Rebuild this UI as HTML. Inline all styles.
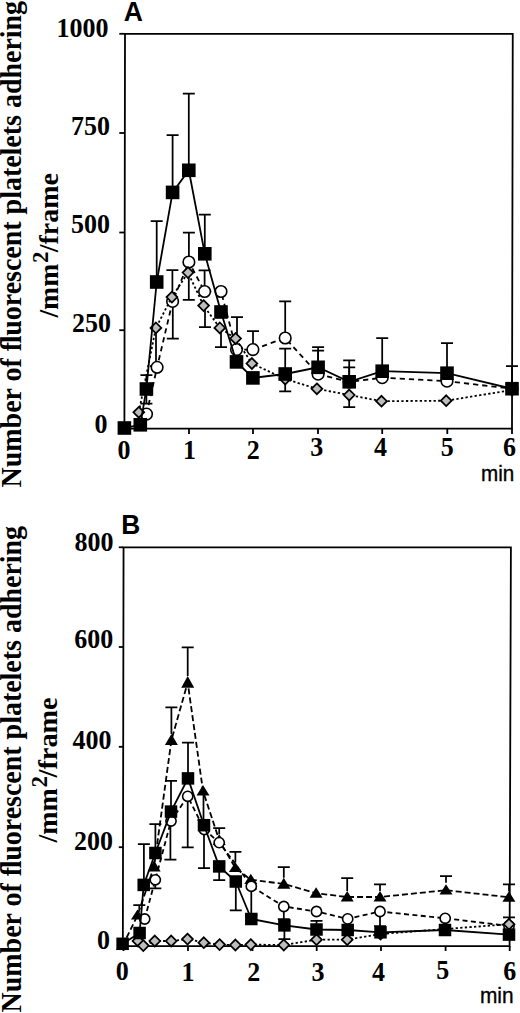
<!DOCTYPE html>
<html><head><meta charset="utf-8"><style>
html,body{margin:0;padding:0;background:#fff;width:520px;height:1013px;overflow:hidden}
svg{display:block}
</style></head><body>
<svg width="520" height="1013" viewBox="0 0 520 1013" stroke="#000" fill="#000">
<g stroke="#000">
<path d="M124.4 428.6L125 33.8L512.75 33.8L512 428.6Z" fill="none" stroke-width="1.8"/>
<line x1="119.3" y1="33.8" x2="124.6" y2="33.8" stroke-width="1.8"/>
<line x1="119.3" y1="133" x2="124.6" y2="133" stroke-width="1.8"/>
<line x1="119.3" y1="232.5" x2="124.6" y2="232.5" stroke-width="1.8"/>
<line x1="119.3" y1="330.2" x2="124.6" y2="330.2" stroke-width="1.8"/>
<line x1="119.3" y1="428.6" x2="124.6" y2="428.6" stroke-width="1.8"/>
<line x1="124.5" y1="428.6" x2="124.5" y2="434" stroke-width="1.8"/>
<line x1="189" y1="428.6" x2="189" y2="434" stroke-width="1.8"/>
<line x1="253" y1="428.6" x2="253" y2="434" stroke-width="1.8"/>
<line x1="318" y1="428.6" x2="318" y2="434" stroke-width="1.8"/>
<line x1="382.2" y1="428.6" x2="382.2" y2="434" stroke-width="1.8"/>
<line x1="447.3" y1="428.6" x2="447.3" y2="434" stroke-width="1.8"/>
<line x1="512" y1="428.6" x2="512" y2="434" stroke-width="1.8"/>
<path d="M146.4 389V375.2M140.4 375.2h12" stroke-width="1.75" fill="none"/>
<path d="M146.4 389V403.5M140.4 403.5h12" stroke-width="1.75" fill="none"/>
<path d="M156.7 282V221M150.7 221h12" stroke-width="1.75" fill="none"/>
<path d="M172.6 192.4V135.2M166.6 135.2h12" stroke-width="1.75" fill="none"/>
<path d="M188.8 170.3V93.5M182.8 93.5h12" stroke-width="1.75" fill="none"/>
<path d="M204.8 253.8V214.5M198.8 214.5h12" stroke-width="1.75" fill="none"/>
<path d="M237 361.9V317M231.0 317h12" stroke-width="1.75" fill="none"/>
<path d="M285.2 374V348.7M279.2 348.7h12" stroke-width="1.75" fill="none"/>
<path d="M285.2 374V391.4M279.2 391.4h12" stroke-width="1.75" fill="none"/>
<path d="M318.1 367.3V347.2M312.1 347.2h12" stroke-width="1.75" fill="none"/>
<path d="M318.1 367.3V350.5M312.1 350.5h12" stroke-width="1.75" fill="none"/>
<path d="M349.2 381.8V360.4M343.2 360.4h12" stroke-width="1.75" fill="none"/>
<path d="M349.2 381.8V367.3M343.2 367.3h12" stroke-width="1.75" fill="none"/>
<path d="M349.2 395V407.2M343.2 407.2h12" stroke-width="1.75" fill="none"/>
<path d="M382.2 371.2V338M376.2 338h12" stroke-width="1.75" fill="none"/>
<path d="M447 373.2V343M441.0 343h12" stroke-width="1.75" fill="none"/>
<path d="M512 388.7V366.2M506.0 366.2h12" stroke-width="1.75" fill="none"/>
<path d="M172.8 301.4V338.5M166.8 338.5h12" stroke-width="1.75" fill="none"/>
<path d="M188.9 262V232.7M182.9 232.7h12" stroke-width="1.75" fill="none"/>
<path d="M204.6 291.5V270.4M198.6 270.4h12" stroke-width="1.75" fill="none"/>
<path d="M253 349.6V331.2M247.0 331.2h12" stroke-width="1.75" fill="none"/>
<path d="M285.2 338V301.3M279.2 301.3h12" stroke-width="1.75" fill="none"/>
<path d="M172.4 297.1V270M166.4 270h12" stroke-width="1.75" fill="none"/>
<path d="M188.8 272.6V299.8M182.8 299.8h12" stroke-width="1.75" fill="none"/>
<path d="M205 305.6V327M199.0 327h12" stroke-width="1.75" fill="none"/>
<path d="M221 327.9V347.1M215.0 347.1h12" stroke-width="1.75" fill="none"/>
<path d="M156 328V366M150.0 366h12" stroke-width="1.75" fill="none"/>
<polyline points="146.5,414.1 157.1,367.3 172.6,301.4 188.9,262 204.6,291.5 221,291.5 236.5,349.6 252.9,349.6 285.2,338 318.1,374.2 349.2,382 382.2,377.7 447,381.2 512,388.7" fill="none" stroke-width="1.8" stroke-dasharray="5.2 4"/>
<circle cx="146.5" cy="414.1" r="5.8" fill="#fff" stroke-width="1.6"/>
<circle cx="157.1" cy="367.3" r="5.8" fill="#fff" stroke-width="1.6"/>
<circle cx="172.6" cy="301.4" r="5.8" fill="#fff" stroke-width="1.6"/>
<circle cx="188.9" cy="262" r="5.8" fill="#fff" stroke-width="1.6"/>
<circle cx="204.6" cy="291.5" r="5.8" fill="#fff" stroke-width="1.6"/>
<circle cx="221" cy="291.5" r="5.8" fill="#fff" stroke-width="1.6"/>
<circle cx="236.5" cy="349.6" r="5.8" fill="#fff" stroke-width="1.6"/>
<circle cx="252.9" cy="349.6" r="5.8" fill="#fff" stroke-width="1.6"/>
<circle cx="285.2" cy="338" r="5.8" fill="#fff" stroke-width="1.6"/>
<circle cx="318.1" cy="374.2" r="5.8" fill="#fff" stroke-width="1.6"/>
<circle cx="349.2" cy="382" r="5.8" fill="#fff" stroke-width="1.6"/>
<circle cx="382.2" cy="377.7" r="5.8" fill="#fff" stroke-width="1.6"/>
<circle cx="447" cy="381.2" r="5.8" fill="#fff" stroke-width="1.6"/>
<circle cx="512" cy="388.7" r="5.8" fill="#fff" stroke-width="1.6"/>
<polyline points="138.8,412.3 155.9,327.9 171.9,297.1 188,272.6 203.6,305.6 219.8,327.9 235.6,338.5 251.9,363.5 285.2,379 316.9,388.8 349.2,395 381.5,401.2 446.2,400.7 512,390" fill="none" stroke-width="1.8" stroke-dasharray="2.3 2.3"/>
<path d="M138.8 406.90000000000003L144.20000000000002 412.3L138.8 417.7L133.4 412.3Z" fill="#bdbdbd" stroke-width="1.75" stroke-linejoin="miter"/>
<path d="M155.9 322.5L161.3 327.9L155.9 333.29999999999995L150.5 327.9Z" fill="#bdbdbd" stroke-width="1.75" stroke-linejoin="miter"/>
<path d="M171.9 291.70000000000005L177.3 297.1L171.9 302.5L166.5 297.1Z" fill="#bdbdbd" stroke-width="1.75" stroke-linejoin="miter"/>
<path d="M188 267.20000000000005L193.4 272.6L188 278.0L182.6 272.6Z" fill="#bdbdbd" stroke-width="1.75" stroke-linejoin="miter"/>
<path d="M203.6 300.20000000000005L209.0 305.6L203.6 311.0L198.2 305.6Z" fill="#bdbdbd" stroke-width="1.75" stroke-linejoin="miter"/>
<path d="M219.8 322.5L225.20000000000002 327.9L219.8 333.29999999999995L214.4 327.9Z" fill="#bdbdbd" stroke-width="1.75" stroke-linejoin="miter"/>
<path d="M235.6 333.1L241.0 338.5L235.6 343.9L230.2 338.5Z" fill="#bdbdbd" stroke-width="1.75" stroke-linejoin="miter"/>
<path d="M251.9 358.1L257.3 363.5L251.9 368.9L246.5 363.5Z" fill="#bdbdbd" stroke-width="1.75" stroke-linejoin="miter"/>
<path d="M285.2 373.6L290.59999999999997 379L285.2 384.4L279.8 379Z" fill="#bdbdbd" stroke-width="1.75" stroke-linejoin="miter"/>
<path d="M316.9 383.40000000000003L322.29999999999995 388.8L316.9 394.2L311.5 388.8Z" fill="#bdbdbd" stroke-width="1.75" stroke-linejoin="miter"/>
<path d="M349.2 389.6L354.59999999999997 395L349.2 400.4L343.8 395Z" fill="#bdbdbd" stroke-width="1.75" stroke-linejoin="miter"/>
<path d="M381.5 395.8L386.9 401.2L381.5 406.59999999999997L376.1 401.2Z" fill="#bdbdbd" stroke-width="1.75" stroke-linejoin="miter"/>
<path d="M446.2 395.3L451.59999999999997 400.7L446.2 406.09999999999997L440.8 400.7Z" fill="#bdbdbd" stroke-width="1.75" stroke-linejoin="miter"/>
<path d="M512 384.6L517.4 390L512 395.4L506.6 390Z" fill="#bdbdbd" stroke-width="1.75" stroke-linejoin="miter"/>
<polyline points="124.4,428 140.3,424.8 146.4,389 156.7,282 172.6,192.4 188.8,170.3 204.8,253.8 221,312 236.5,361.9 252.9,377.9 285.2,374 318.1,367.3 349.2,381.8 382.2,371.2 447,373.2 512,388.7" fill="none" stroke-width="1.8"/>
<rect x="117.60" y="421.20" width="13.6" height="13.6" fill="#000" stroke="none"/>
<rect x="133.50" y="418.00" width="13.6" height="13.6" fill="#000" stroke="none"/>
<rect x="139.60" y="382.20" width="13.6" height="13.6" fill="#000" stroke="none"/>
<rect x="149.90" y="275.20" width="13.6" height="13.6" fill="#000" stroke="none"/>
<rect x="165.80" y="185.60" width="13.6" height="13.6" fill="#000" stroke="none"/>
<rect x="182.00" y="163.50" width="13.6" height="13.6" fill="#000" stroke="none"/>
<rect x="198.00" y="247.00" width="13.6" height="13.6" fill="#000" stroke="none"/>
<rect x="214.20" y="305.20" width="13.6" height="13.6" fill="#000" stroke="none"/>
<rect x="229.70" y="355.10" width="13.6" height="13.6" fill="#000" stroke="none"/>
<rect x="246.10" y="371.10" width="13.6" height="13.6" fill="#000" stroke="none"/>
<rect x="278.40" y="367.20" width="13.6" height="13.6" fill="#000" stroke="none"/>
<rect x="311.30" y="360.50" width="13.6" height="13.6" fill="#000" stroke="none"/>
<rect x="342.40" y="375.00" width="13.6" height="13.6" fill="#000" stroke="none"/>
<rect x="375.40" y="364.40" width="13.6" height="13.6" fill="#000" stroke="none"/>
<rect x="440.20" y="366.40" width="13.6" height="13.6" fill="#000" stroke="none"/>
<rect x="505.20" y="381.90" width="13.6" height="13.6" fill="#000" stroke="none"/>
<path d="M122.85 946.2L123.55 547.3L510.9 547.3L509.6 946.2Z" fill="none" stroke-width="1.8"/>
<line x1="118.8" y1="547.3" x2="123.3" y2="547.3" stroke-width="1.8"/>
<line x1="118.8" y1="647" x2="123.3" y2="647" stroke-width="1.8"/>
<line x1="118.8" y1="746.8" x2="123.3" y2="746.8" stroke-width="1.8"/>
<line x1="118.8" y1="847.2" x2="123.3" y2="847.2" stroke-width="1.8"/>
<line x1="118.8" y1="946.2" x2="123.3" y2="946.2" stroke-width="1.8"/>
<line x1="123.5" y1="946.2" x2="123.5" y2="951" stroke-width="1.8"/>
<line x1="188" y1="946.2" x2="188" y2="951" stroke-width="1.8"/>
<line x1="252.5" y1="946.2" x2="252.5" y2="951" stroke-width="1.8"/>
<line x1="316.7" y1="946.2" x2="316.7" y2="951" stroke-width="1.8"/>
<line x1="381" y1="946.2" x2="381" y2="951" stroke-width="1.8"/>
<line x1="445.6" y1="946.2" x2="445.6" y2="951" stroke-width="1.8"/>
<line x1="509.7" y1="946.2" x2="509.7" y2="951" stroke-width="1.8"/>
<path d="M143.9 884.9V844M137.9 844h12" stroke-width="1.75" fill="none"/>
<path d="M155.4 853V824.2M149.4 824.2h12" stroke-width="1.75" fill="none"/>
<path d="M171 811.6V780.9M165.0 780.9h12" stroke-width="1.75" fill="none"/>
<path d="M188 778.4V742.5M182.0 742.5h12" stroke-width="1.75" fill="none"/>
<path d="M204 825.2V868M198.0 868h12" stroke-width="1.75" fill="none"/>
<path d="M219.2 866.4V880M213.2 880h12" stroke-width="1.75" fill="none"/>
<path d="M235.8 881.5V910.4M229.8 910.4h12" stroke-width="1.75" fill="none"/>
<path d="M251.3 886.3V915.2M245.3 915.2h12" stroke-width="1.75" fill="none"/>
<path d="M283.8 906.5V919M277.8 919h12" stroke-width="1.75" fill="none"/>
<path d="M284.4 925.4V939.2M278.4 939.2h12" stroke-width="1.75" fill="none"/>
<path d="M316.5 929.5V920.8M310.5 920.8h12" stroke-width="1.75" fill="none"/>
<path d="M155.3 879.8V888.4M149.3 888.4h12" stroke-width="1.75" fill="none"/>
<path d="M187.7 796.3V847.3M181.7 847.3h12" stroke-width="1.75" fill="none"/>
<path d="M170.4 821V859.7M164.4 859.7h12" stroke-width="1.75" fill="none"/>
<path d="M139.3 909.5V905M133.3 905h12" stroke-width="1.75" fill="none"/>
<path d="M171.4 734.1V707.3M165.4 707.3h12" stroke-width="1.75" fill="none"/>
<path d="M187.7 676.1V647.3M181.7 647.3h12" stroke-width="1.75" fill="none"/>
<path d="M219.2 834V828M213.2 828h12" stroke-width="1.75" fill="none"/>
<path d="M235.4 862.3V851.8M229.4 851.8h12" stroke-width="1.75" fill="none"/>
<path d="M283.8 877.7V867.1M277.8 867.1h12" stroke-width="1.75" fill="none"/>
<path d="M347.2 891V878.1M341.2 878.1h12" stroke-width="1.75" fill="none"/>
<path d="M380 891V884.3M374.0 884.3h12" stroke-width="1.75" fill="none"/>
<path d="M446 882.8V876M440.0 876h12" stroke-width="1.75" fill="none"/>
<path d="M509 891.2V884.3M503.0 884.3h12" stroke-width="1.75" fill="none"/>
<path d="M509 924.2V917.3M503.0 917.3h12" stroke-width="1.75" fill="none"/>
<path d="M203.5 795V820M197.5 820h12" stroke-width="1.75" fill="none"/>
<path d="M380 911.5V926M374.0 926h12" stroke-width="1.75" fill="none"/>
<polyline points="122.6,945.8333333333334 137.5,915.3666666666667 154.1,866.4666666666667 171.4,740.2333333333332 187.7,682.4666666666667 203,791.0 219.2,840.1666666666666 235.4,868.0333333333333 250.8,879.6999999999999 283.8,883.9 316.1,893.2999999999998 347.2,897.0 380,897.0 446,890.1999999999999 508.9,897.2333333333332" fill="none" stroke-width="1.8" stroke-dasharray="6 3"/>
<path d="M122.6 940L129.1 950L116.1 950Z" fill="#000" stroke="none"/>
<path d="M137.5 909.5L144.0 919.6L131.0 919.6Z" fill="#000" stroke="none"/>
<path d="M154.1 860.2L160.6 871.5L147.6 871.5Z" fill="#000" stroke="none"/>
<path d="M171.4 734.1L177.9 745L164.9 745Z" fill="#000" stroke="none"/>
<path d="M187.7 676.1L194.2 687.7L181.2 687.7Z" fill="#000" stroke="none"/>
<path d="M203 785L209.5 795.5L196.5 795.5Z" fill="#000" stroke="none"/>
<path d="M219.2 834L225.7 845L212.7 845Z" fill="#000" stroke="none"/>
<path d="M235.4 862.3L241.9 872L228.9 872Z" fill="#000" stroke="none"/>
<path d="M250.8 873.8L257.3 884L244.3 884Z" fill="#000" stroke="none"/>
<path d="M283.8 877.7L290.3 888.8L277.3 888.8Z" fill="#000" stroke="none"/>
<path d="M316.1 887.3L322.6 897.8L309.6 897.8Z" fill="#000" stroke="none"/>
<path d="M347.2 891L353.7 901.5L340.7 901.5Z" fill="#000" stroke="none"/>
<path d="M380 891L386.5 901.5L373.5 901.5Z" fill="#000" stroke="none"/>
<path d="M446 884.3L452.5 894.5L439.5 894.5Z" fill="#000" stroke="none"/>
<path d="M508.9 891.2L515.4 901.8L502.4 901.8Z" fill="#000" stroke="none"/>
<polyline points="144.7,919 155.3,879.8 171,821 187.7,796.3 204.3,829.5 219.2,842.6 235.5,864 251.3,886.3 283.8,906.5 316.5,911.5 347.7,918.9 380,911.5 445.2,918.3 509,926" fill="none" stroke-width="1.8" stroke-dasharray="5 3.4"/>
<circle cx="144.7" cy="919" r="5.1" fill="#fff" stroke-width="1.6"/>
<circle cx="155.3" cy="879.8" r="5.1" fill="#fff" stroke-width="1.6"/>
<circle cx="171" cy="821" r="5.1" fill="#fff" stroke-width="1.6"/>
<circle cx="187.7" cy="796.3" r="5.1" fill="#fff" stroke-width="1.6"/>
<circle cx="204.3" cy="829.5" r="5.1" fill="#fff" stroke-width="1.6"/>
<circle cx="219.2" cy="842.6" r="5.1" fill="#fff" stroke-width="1.6"/>
<circle cx="251.3" cy="886.3" r="5.1" fill="#fff" stroke-width="1.6"/>
<circle cx="283.8" cy="906.5" r="5.1" fill="#fff" stroke-width="1.6"/>
<circle cx="316.5" cy="911.5" r="5.1" fill="#fff" stroke-width="1.6"/>
<circle cx="347.7" cy="918.9" r="5.1" fill="#fff" stroke-width="1.6"/>
<circle cx="380" cy="911.5" r="5.1" fill="#fff" stroke-width="1.6"/>
<circle cx="445.2" cy="918.3" r="5.1" fill="#fff" stroke-width="1.6"/>
<circle cx="509" cy="926" r="5.1" fill="#fff" stroke-width="1.6"/>
<polyline points="138,941 143.3,945.6 154.8,941 171.2,941 187.5,939.1 203.8,942.7 219.6,944.6 235.4,945 250.8,944.6 283.8,945 316.5,939.7 347.2,939.7 380.5,934 445,929 509,924.2" fill="none" stroke-width="1.8" stroke-dasharray="2.3 2.3"/>
<path d="M138 935.6L143.4 941L138 946.4L132.6 941Z" fill="#bdbdbd" stroke-width="1.75" stroke-linejoin="miter"/>
<path d="M143.3 940.2L148.70000000000002 945.6L143.3 951.0L137.9 945.6Z" fill="#bdbdbd" stroke-width="1.75" stroke-linejoin="miter"/>
<path d="M154.8 935.6L160.20000000000002 941L154.8 946.4L149.4 941Z" fill="#bdbdbd" stroke-width="1.75" stroke-linejoin="miter"/>
<path d="M171.2 935.6L176.6 941L171.2 946.4L165.79999999999998 941Z" fill="#bdbdbd" stroke-width="1.75" stroke-linejoin="miter"/>
<path d="M187.5 933.7L192.9 939.1L187.5 944.5L182.1 939.1Z" fill="#bdbdbd" stroke-width="1.75" stroke-linejoin="miter"/>
<path d="M203.8 937.3000000000001L209.20000000000002 942.7L203.8 948.1L198.4 942.7Z" fill="#bdbdbd" stroke-width="1.75" stroke-linejoin="miter"/>
<path d="M219.6 939.2L225.0 944.6L219.6 950.0L214.2 944.6Z" fill="#bdbdbd" stroke-width="1.75" stroke-linejoin="miter"/>
<path d="M235.4 939.6L240.8 945L235.4 950.4L230.0 945Z" fill="#bdbdbd" stroke-width="1.75" stroke-linejoin="miter"/>
<path d="M250.8 939.2L256.2 944.6L250.8 950.0L245.4 944.6Z" fill="#bdbdbd" stroke-width="1.75" stroke-linejoin="miter"/>
<path d="M283.8 939.6L289.2 945L283.8 950.4L278.40000000000003 945Z" fill="#bdbdbd" stroke-width="1.75" stroke-linejoin="miter"/>
<path d="M316.5 934.3000000000001L321.9 939.7L316.5 945.1L311.1 939.7Z" fill="#bdbdbd" stroke-width="1.75" stroke-linejoin="miter"/>
<path d="M347.2 934.3000000000001L352.59999999999997 939.7L347.2 945.1L341.8 939.7Z" fill="#bdbdbd" stroke-width="1.75" stroke-linejoin="miter"/>
<path d="M380.5 928.6L385.9 934L380.5 939.4L375.1 934Z" fill="#bdbdbd" stroke-width="1.75" stroke-linejoin="miter"/>
<path d="M445 923.6L450.4 929L445 934.4L439.6 929Z" fill="#bdbdbd" stroke-width="1.75" stroke-linejoin="miter"/>
<path d="M509 918.8000000000001L514.4 924.2L509 929.6L503.6 924.2Z" fill="#bdbdbd" stroke-width="1.75" stroke-linejoin="miter"/>
<polyline points="122.6,943.8 139.6,933 143.7,884.9 155.4,853 171,811.6 188,778.4 204,825.2 219.2,866.4 235.8,881.5 251.3,919 284.4,925.4 316.5,929.5 347.7,930 380.5,932.3 445,930 509,934.6" fill="none" stroke-width="1.8"/>
<rect x="116.35" y="937.55" width="12.5" height="12.5" fill="#000" stroke="none"/>
<rect x="133.35" y="926.75" width="12.5" height="12.5" fill="#000" stroke="none"/>
<rect x="137.45" y="878.65" width="12.5" height="12.5" fill="#000" stroke="none"/>
<rect x="149.15" y="846.75" width="12.5" height="12.5" fill="#000" stroke="none"/>
<rect x="164.75" y="805.35" width="12.5" height="12.5" fill="#000" stroke="none"/>
<rect x="181.75" y="772.15" width="12.5" height="12.5" fill="#000" stroke="none"/>
<rect x="197.75" y="818.95" width="12.5" height="12.5" fill="#000" stroke="none"/>
<rect x="212.95" y="860.15" width="12.5" height="12.5" fill="#000" stroke="none"/>
<rect x="229.55" y="875.25" width="12.5" height="12.5" fill="#000" stroke="none"/>
<rect x="245.05" y="912.75" width="12.5" height="12.5" fill="#000" stroke="none"/>
<rect x="278.15" y="919.15" width="12.5" height="12.5" fill="#000" stroke="none"/>
<rect x="310.25" y="923.25" width="12.5" height="12.5" fill="#000" stroke="none"/>
<rect x="341.45" y="923.75" width="12.5" height="12.5" fill="#000" stroke="none"/>
<rect x="374.25" y="926.05" width="12.5" height="12.5" fill="#000" stroke="none"/>
<rect x="438.75" y="923.75" width="12.5" height="12.5" fill="#000" stroke="none"/>
<rect x="502.75" y="928.35" width="12.5" height="12.5" fill="#000" stroke="none"/>
<text transform="translate(108.6,37.2) scale(1,1.06)" font-family="Liberation Serif" font-weight="bold" font-size="26" text-anchor="end" stroke="none" >1000</text>
<text transform="translate(110,135.4) scale(1,1.06)" font-family="Liberation Serif" font-weight="bold" font-size="26" text-anchor="end" stroke="none" >750</text>
<text transform="translate(110,233) scale(1,1.06)" font-family="Liberation Serif" font-weight="bold" font-size="26" text-anchor="end" stroke="none" >500</text>
<text transform="translate(110.9,331.5) scale(1,1.06)" font-family="Liberation Serif" font-weight="bold" font-size="26" text-anchor="end" stroke="none" >250</text>
<text transform="translate(107.4,433.2) scale(1,1.06)" font-family="Liberation Serif" font-weight="bold" font-size="26" text-anchor="end" stroke="none" >0</text>
<text transform="translate(113.5,551.2) scale(1,1.06)" font-family="Liberation Serif" font-weight="bold" font-size="26" text-anchor="end" stroke="none" >800</text>
<text transform="translate(113.2,647.7) scale(1,1.06)" font-family="Liberation Serif" font-weight="bold" font-size="26" text-anchor="end" stroke="none" >600</text>
<text transform="translate(111.5,749.3) scale(1,1.06)" font-family="Liberation Serif" font-weight="bold" font-size="26" text-anchor="end" stroke="none" >400</text>
<text transform="translate(112.9,849.7) scale(1,1.06)" font-family="Liberation Serif" font-weight="bold" font-size="26" text-anchor="end" stroke="none" >200</text>
<text transform="translate(110.1,948.6) scale(1,1.06)" font-family="Liberation Serif" font-weight="bold" font-size="26" text-anchor="end" stroke="none" >0</text>
<text transform="translate(124,459.2) scale(1,1.06)" font-family="Liberation Serif" font-weight="bold" font-size="26" text-anchor="middle" stroke="none" >0</text>
<text transform="translate(189.5,459.2) scale(1,1.06)" font-family="Liberation Serif" font-weight="bold" font-size="26" text-anchor="middle" stroke="none" >1</text>
<text transform="translate(253.3,458.8) scale(1,1.06)" font-family="Liberation Serif" font-weight="bold" font-size="26" text-anchor="middle" stroke="none" >2</text>
<text transform="translate(316.8,456.2) scale(1,1.06)" font-family="Liberation Serif" font-weight="bold" font-size="26" text-anchor="middle" stroke="none" >3</text>
<text transform="translate(380.5,455.8) scale(1,1.06)" font-family="Liberation Serif" font-weight="bold" font-size="26" text-anchor="middle" stroke="none" >4</text>
<text transform="translate(447.2,456) scale(1,1.06)" font-family="Liberation Serif" font-weight="bold" font-size="26" text-anchor="middle" stroke="none" >5</text>
<text transform="translate(509.4,456) scale(1,1.06)" font-family="Liberation Serif" font-weight="bold" font-size="26" text-anchor="middle" stroke="none" >6</text>
<text transform="translate(122.2,980) scale(1,1.06)" font-family="Liberation Serif" font-weight="bold" font-size="26" text-anchor="middle" stroke="none" >0</text>
<text transform="translate(188,980.5) scale(1,1.06)" font-family="Liberation Serif" font-weight="bold" font-size="26" text-anchor="middle" stroke="none" >1</text>
<text transform="translate(253.8,981) scale(1,1.06)" font-family="Liberation Serif" font-weight="bold" font-size="26" text-anchor="middle" stroke="none" >2</text>
<text transform="translate(318,981) scale(1,1.06)" font-family="Liberation Serif" font-weight="bold" font-size="26" text-anchor="middle" stroke="none" >3</text>
<text transform="translate(378.6,981) scale(1,1.06)" font-family="Liberation Serif" font-weight="bold" font-size="26" text-anchor="middle" stroke="none" >4</text>
<text transform="translate(442.8,979.3) scale(1,1.06)" font-family="Liberation Serif" font-weight="bold" font-size="26" text-anchor="middle" stroke="none" >5</text>
<text transform="translate(509.8,979.5) scale(1,1.06)" font-family="Liberation Serif" font-weight="bold" font-size="26" text-anchor="middle" stroke="none" >6</text>
<text stroke="#000" stroke-width="0.35" transform="translate(497.6,481.2) scale(0.96,1)" font-family="Liberation Sans" font-size="21.5" text-anchor="middle">min</text>
<text stroke="#000" stroke-width="0.35" transform="translate(496.8,1003.3) scale(0.93,1)" font-family="Liberation Sans" font-size="22.5" text-anchor="middle">min</text>
<text transform="translate(123.8,20.6) scale(1,1.06)" font-family="Liberation Sans" font-weight="bold" font-size="26.5" text-anchor="start" stroke="none" >A</text>
<text transform="translate(121.3,533.7) scale(1,1.03)" font-family="Liberation Sans" font-weight="bold" font-size="26.3" text-anchor="start" stroke="none" >B</text>
<text stroke="none" transform="translate(21,487.4) rotate(-90)" font-family="Liberation Serif" font-weight="bold" font-size="29.5" textLength="486.5" lengthAdjust="spacingAndGlyphs">Number of &#xFB02;uorescent platelets adhering</text>
<text stroke="none" transform="translate(58,317.6) rotate(-90)" font-family="Liberation Serif" font-weight="bold" font-size="28" textLength="53.9" lengthAdjust="spacingAndGlyphs">/mm</text>
<text stroke="none" transform="translate(48.3,263.0) rotate(-90)" font-family="Liberation Serif" font-weight="bold" font-size="23">2</text>
<text stroke="none" transform="translate(58,252.2) rotate(-90)" font-family="Liberation Serif" font-weight="bold" font-size="28" textLength="79" lengthAdjust="spacingAndGlyphs">/frame</text>
<text stroke="none" transform="translate(20.5,1012.4) rotate(-90)" font-family="Liberation Serif" font-weight="bold" font-size="29.5" textLength="486.5" lengthAdjust="spacingAndGlyphs">Number of &#xFB02;uorescent platelets adhering</text>
<text stroke="none" transform="translate(56.9,842.4) rotate(-90)" font-family="Liberation Serif" font-weight="bold" font-size="28" textLength="54.2" lengthAdjust="spacingAndGlyphs">/mm</text>
<text stroke="none" transform="translate(47.3,787.4) rotate(-90)" font-family="Liberation Serif" font-weight="bold" font-size="23">2</text>
<text stroke="none" transform="translate(56.9,777.4) rotate(-90)" font-family="Liberation Serif" font-weight="bold" font-size="28" textLength="80" lengthAdjust="spacingAndGlyphs">/frame</text>
</g>
</svg>
</body></html>
